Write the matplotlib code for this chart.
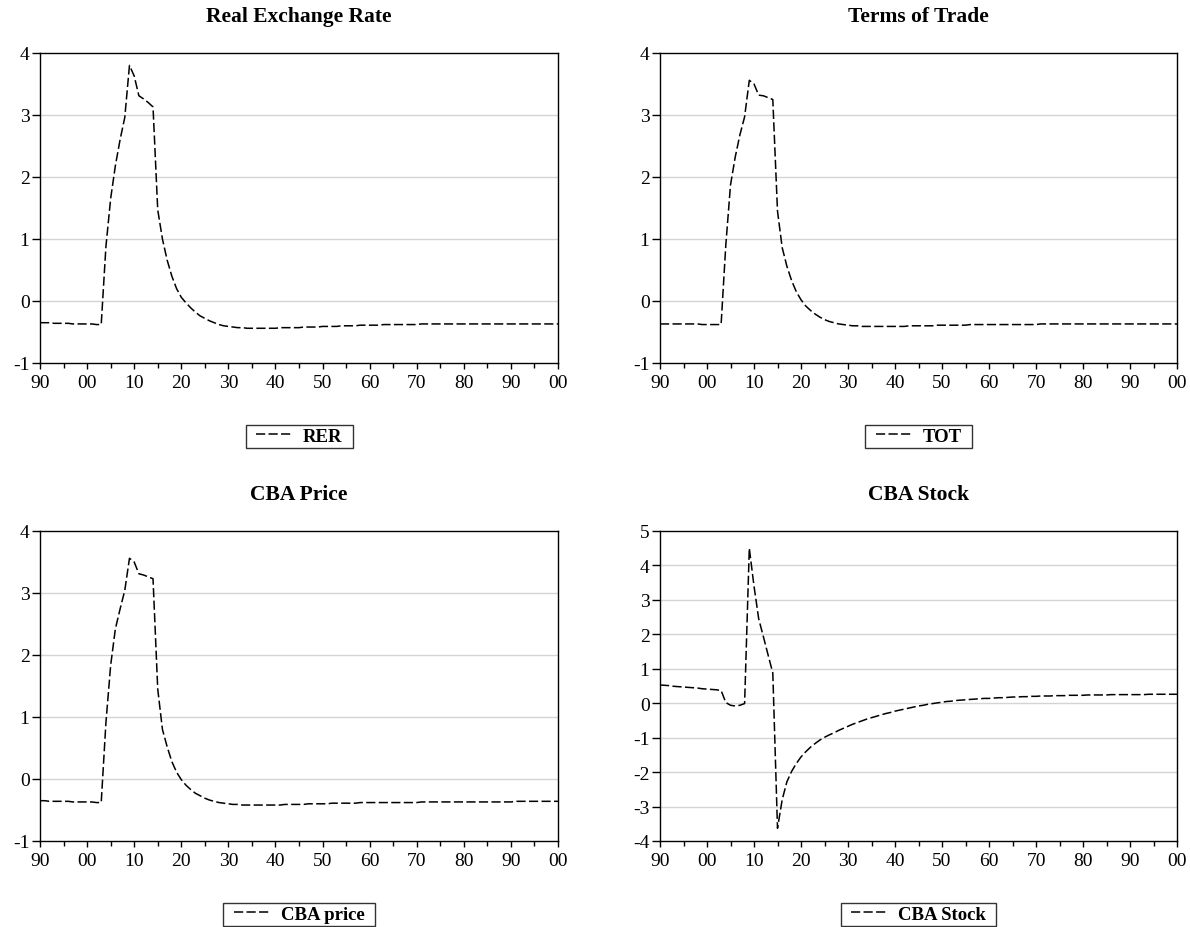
import numpy as np
import matplotlib
matplotlib.use('Agg')
import matplotlib.pyplot as plt
from matplotlib.path import Path
from matplotlib.ticker import MultipleLocator, FuncFormatter

plt.rcParams.update({
    'font.family': ['Liberation Serif', 'DejaVu Serif'],
    'font.size': 14,
    'axes.unicode_minus': False,
})

years = np.arange(1990, 2101)

rer = [
    -0.35, -0.35, -0.35, -0.36, -0.36, -0.36, -0.36, -0.37, -0.37, -0.37, -0.37, -0.37, -0.38, -0.38,
    0.88, 1.65, 2.18, 2.60, 2.96, 3.80, 3.63, 3.31, 3.26, 3.20, 3.13, 1.47, 1.00, 0.66, 0.40, 0.20, 0.06,
    -0.03, -0.11, -0.18, -0.24, -0.28, -0.32, -0.35, -0.38, -0.40, -0.41, -0.42, -0.43, -0.43, -0.44, -0.44,
    -0.44, -0.44, -0.44, -0.44, -0.44,
    -0.43, -0.43, -0.43, -0.43, -0.43, -0.42, -0.42, -0.42, -0.42, -0.41, -0.41, -0.41, -0.41, -0.40, -0.40,
    -0.40, -0.40, -0.39, -0.39, -0.39,
    -0.39, -0.39, -0.38, -0.38, -0.38, -0.38, -0.38, -0.38, -0.38, -0.38, -0.37, -0.37, -0.37, -0.37, -0.37,
    -0.37, -0.37, -0.37, -0.37, -0.37,
    -0.37, -0.37, -0.37, -0.37, -0.37, -0.37, -0.37, -0.37, -0.37, -0.37, -0.37, -0.37, -0.37, -0.37, -0.37,
    -0.37, -0.37, -0.37, -0.37, -0.37,
]

tot = [
    -0.37, -0.37, -0.37, -0.37, -0.37, -0.37, -0.37, -0.37, -0.37, -0.38, -0.38, -0.38, -0.38, -0.38,
    0.90, 1.87, 2.32, 2.68, 2.97, 3.56, 3.50, 3.32, 3.31, 3.28, 3.25, 1.45, 0.86, 0.56, 0.33, 0.15, 0.02,
    -0.08, -0.15, -0.21, -0.26, -0.30, -0.33, -0.35, -0.37, -0.38, -0.39, -0.40, -0.40, -0.41, -0.41, -0.41,
    -0.41, -0.41, -0.41, -0.41, -0.41,
    -0.41, -0.41, -0.40, -0.40, -0.40, -0.40, -0.40, -0.40, -0.39, -0.39, -0.39, -0.39, -0.39, -0.39, -0.39,
    -0.38, -0.38, -0.38, -0.38, -0.38,
    -0.38, -0.38, -0.38, -0.38, -0.38, -0.38, -0.38, -0.38, -0.38, -0.38, -0.37, -0.37, -0.37, -0.37, -0.37,
    -0.37, -0.37, -0.37, -0.37, -0.37,
    -0.37, -0.37, -0.37, -0.37, -0.37, -0.37, -0.37, -0.37, -0.37, -0.37, -0.37, -0.37, -0.37, -0.37, -0.37,
    -0.37, -0.37, -0.37, -0.37, -0.37,
]

cba_price = [
    -0.35, -0.35, -0.36, -0.36, -0.36, -0.36, -0.36, -0.37, -0.37, -0.37, -0.37, -0.37, -0.38, -0.38,
    0.91, 1.83, 2.42, 2.74, 3.04, 3.56, 3.50, 3.31, 3.29, 3.26, 3.23, 1.45, 0.80, 0.52, 0.28, 0.11, -0.01,
    -0.10, -0.17, -0.23, -0.27, -0.31, -0.34, -0.36, -0.38, -0.39, -0.40, -0.41, -0.41, -0.42, -0.42, -0.42,
    -0.42, -0.42, -0.42, -0.42, -0.42,
    -0.42, -0.41, -0.41, -0.41, -0.41, -0.41, -0.40, -0.40, -0.40, -0.40, -0.40, -0.39, -0.39, -0.39, -0.39,
    -0.39, -0.39, -0.38, -0.38, -0.38,
    -0.38, -0.38, -0.38, -0.38, -0.38, -0.38, -0.38, -0.38, -0.38, -0.38, -0.37, -0.37, -0.37, -0.37, -0.37,
    -0.37, -0.37, -0.37, -0.37, -0.37,
    -0.37, -0.37, -0.37, -0.37, -0.37, -0.37, -0.37, -0.37, -0.37, -0.37, -0.36, -0.36, -0.36, -0.36, -0.36,
    -0.36, -0.36, -0.36, -0.36, -0.36,
]

cba_stock = [
    0.53, 0.52, 0.51, 0.49, 0.48, 0.47, 0.46, 0.45, 0.44, 0.42, 0.41, 0.40, 0.39, 0.37,
    0.02, -0.06, -0.08, -0.06, -0.01, 4.50, 3.40, 2.45, 1.93, 1.40, 0.88, -3.63, -2.80, -2.28, -1.98, -1.75, -1.56,
    -1.41, -1.28, -1.17, -1.07, -0.99, -0.92, -0.86, -0.79, -0.73, -0.67, -0.61, -0.56, -0.51, -0.46, -0.42,
    -0.38, -0.34, -0.30, -0.27, -0.23,
    -0.20, -0.17, -0.14, -0.11, -0.08, -0.06, -0.03, -0.01, 0.01, 0.03, 0.05, 0.06, 0.08, 0.09, 0.10,
    0.11, 0.12, 0.13, 0.14, 0.14,
    0.15, 0.16, 0.16, 0.17, 0.18, 0.18, 0.19, 0.19, 0.20, 0.20, 0.21, 0.21, 0.21, 0.22, 0.22,
    0.22, 0.23, 0.23, 0.23, 0.23,
    0.24, 0.24, 0.24, 0.24, 0.24, 0.25, 0.25, 0.25, 0.25, 0.25, 0.25, 0.25, 0.25, 0.26, 0.26,
    0.26, 0.26, 0.26, 0.26, 0.26,
]

panels = [
    ('Real Exchange Rate', 'RER', rer, (-1, 4)),
    ('Terms of Trade', 'TOT', tot, (-1, 4)),
    ('CBA Price', 'CBA price', cba_price, (-1, 4)),
    ('CBA Stock', 'CBA Stock', cba_stock, (-4, 5)),
]


def wide_box(x0, y0, width, height, mutation_size):
    # square legend frame with extra room left/right only
    p = 0.4 * mutation_size
    x0, x1 = x0 - p, x0 + width + p
    y1 = y0 + height
    return Path([(x0, y0), (x1, y0), (x1, y1), (x0, y1), (x0, y0)], closed=True)


W, H = 1190, 928
fig = plt.figure(figsize=(W / 100, H / 100), dpi=100)
fig.patch.set_facecolor('white')

# axes boxes in pixels: left, top, right, bottom
boxes = [(40, 54, 558, 364), (660, 54, 1177, 364),
         (40, 532, 558, 842), (660, 532, 1177, 842)]

for (title, lab, vals, ylim), (l, t, r, b) in zip(panels, boxes):
    ax = fig.add_axes([l / W, 1 - b / H, (r - l) / W, (b - t) / H])
    ax.plot(years, vals, color='black', lw=1.1, dashes=(6, 2.2), label=lab)
    ax.set_xlim(1990, 2100)
    ax.set_ylim(*ylim)
    ax.yaxis.set_major_locator(MultipleLocator(1))
    ax.xaxis.set_major_locator(MultipleLocator(10))
    ax.xaxis.set_minor_locator(MultipleLocator(5))
    ax.xaxis.set_major_formatter(FuncFormatter(lambda v, p: f'{int(round(v)) % 100:02d}'))
    ax.yaxis.set_major_formatter(FuncFormatter(lambda v, p: f'{int(round(v))}'))
    for y in range(ylim[0] + 1, ylim[1]):
        ax.axhline(y, color='#d4d4d4', lw=1.0, zorder=0)
    ax.tick_params(axis='y', direction='out', length=6, width=1, labelsize=14, pad=1.5)
    ax.tick_params(axis='x', which='major', direction='out', length=4, width=1, labelsize=14, pad=4)
    ax.tick_params(axis='x', which='minor', direction='out', length=3.5, width=1)
    for s in ax.spines.values():
        s.set_linewidth(1.0)
        s.set_color('black')
    ax.text(0.5, 1.118, title, transform=ax.transAxes, ha='center', va='center',
            fontsize=15.5, fontweight='bold')
    leg = ax.legend(loc='center', bbox_to_anchor=(0.5, -0.236), frameon=True, fancybox=False,
                    handlelength=1.9, handletextpad=0.6, borderpad=0.15, borderaxespad=0,
                    prop={'weight': 'bold', 'size': 13.5})
    leg.get_frame().set_boxstyle(wide_box)
    leg.get_frame().set_edgecolor('black')
    leg.get_frame().set_linewidth(1.0)

fig.savefig('out.png', dpi=100, facecolor='white')
